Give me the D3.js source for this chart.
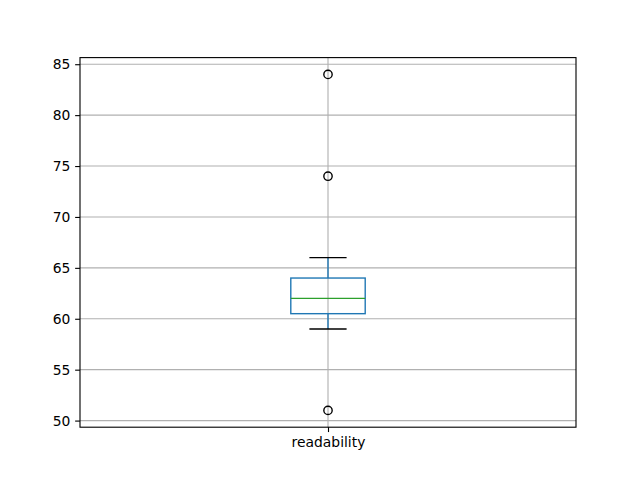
<!DOCTYPE html>
<html><head><meta charset="utf-8">
<script src="https://cdn.jsdelivr.net/npm/d3@7"></script>
<style>body{margin:0;background:#fff}</style>
</head><body>
<svg id="c" width="640" height="480"></svg>
<script>
const categories = ["readability"];
const q1 = [60.5];
const median = [62];
const q3 = [64];
const whiskerLow = [59];
const whiskerHigh = [66];
const outliers = [[84, 74, 51]];
const yTicks = [50, 55, 60, 65, 70, 75, 80, 85];

const svg = d3.select("#c");
const L = 80, R = 576, T = 57.6, B = 427.2;
const font = "DejaVu Sans, sans-serif";

const x = d3.scaleLinear().domain([0.5, 1.5]).range([L, R]);
const y = d3.scaleLinear().domain([49.35, 85.65]).range([B, T]);

// grid
svg.append("g").selectAll("line").data(yTicks).join("line")
  .attr("x1", L).attr("x2", R).attr("y1", d => y(d)).attr("y2", d => y(d))
  .attr("stroke", "#b0b0b0").attr("stroke-width", 1.11);
svg.append("g").selectAll("line").data(categories).join("line")
  .attr("x1", (d, i) => x(i + 1)).attr("x2", (d, i) => x(i + 1)).attr("y1", T).attr("y2", B)
  .attr("stroke", "#b0b0b0").attr("stroke-width", 1.11);

// axes
const yAxis = d3.axisLeft(y).tickValues(yTicks).tickSize(4.86).tickPadding(4.86);
const gy = svg.append("g").attr("transform", `translate(${L},0)`).call(yAxis);
const xAxis = d3.axisBottom(x).tickValues(categories.map((d, i) => i + 1)).tickFormat((d) => categories[d - 1]).tickSize(4.86).tickPadding(4.86);
const gx = svg.append("g").attr("transform", `translate(0,${B})`).call(xAxis);
[gy, gx].forEach(g => {
  g.select(".domain").remove();
  g.selectAll(".tick line").attr("stroke", "#000").attr("stroke-width", 1.11);
  g.selectAll(".tick text").attr("font-family", font).attr("font-size", 13.89).attr("fill", "#000");
});

const halfW = (x(1.075) - x(1));
categories.forEach((c, i) => {
  const cx = x(i + 1);
  const g = svg.append("g");
  // whiskers
  g.append("line").attr("x1", cx).attr("x2", cx).attr("y1", y(q3[i])).attr("y2", y(whiskerHigh[i]))
    .attr("stroke", "#1f77b4").attr("stroke-width", 1.39);
  g.append("line").attr("x1", cx).attr("x2", cx).attr("y1", y(q1[i])).attr("y2", y(whiskerLow[i]))
    .attr("stroke", "#1f77b4").attr("stroke-width", 1.39);
  // caps
  [whiskerHigh[i], whiskerLow[i]].forEach(v => {
    g.append("line").attr("x1", cx - halfW / 2).attr("x2", cx + halfW / 2).attr("y1", y(v)).attr("y2", y(v))
      .attr("stroke", "#000").attr("stroke-width", 1.39);
  });
  // box
  g.append("rect").attr("x", cx - halfW).attr("width", 2 * halfW)
    .attr("y", y(q3[i])).attr("height", y(q1[i]) - y(q3[i]))
    .attr("fill", "none").attr("stroke", "#1f77b4").attr("stroke-width", 1.39);
  // median
  g.append("line").attr("x1", cx - halfW).attr("x2", cx + halfW).attr("y1", y(median[i])).attr("y2", y(median[i]))
    .attr("stroke", "#2ca02c").attr("stroke-width", 1.39);
  // outliers
  g.selectAll("circle").data(outliers[i]).join("circle")
    .attr("cx", cx).attr("cy", d => y(d)).attr("r", 4.17)
    .attr("fill", "none").attr("stroke", "#000").attr("stroke-width", 1.39);
});

// frame
svg.append("rect").attr("x", L).attr("y", T).attr("width", R - L).attr("height", B - T)
  .attr("fill", "none").attr("stroke", "#000").attr("stroke-width", 1.11);
</script>
</body></html>
